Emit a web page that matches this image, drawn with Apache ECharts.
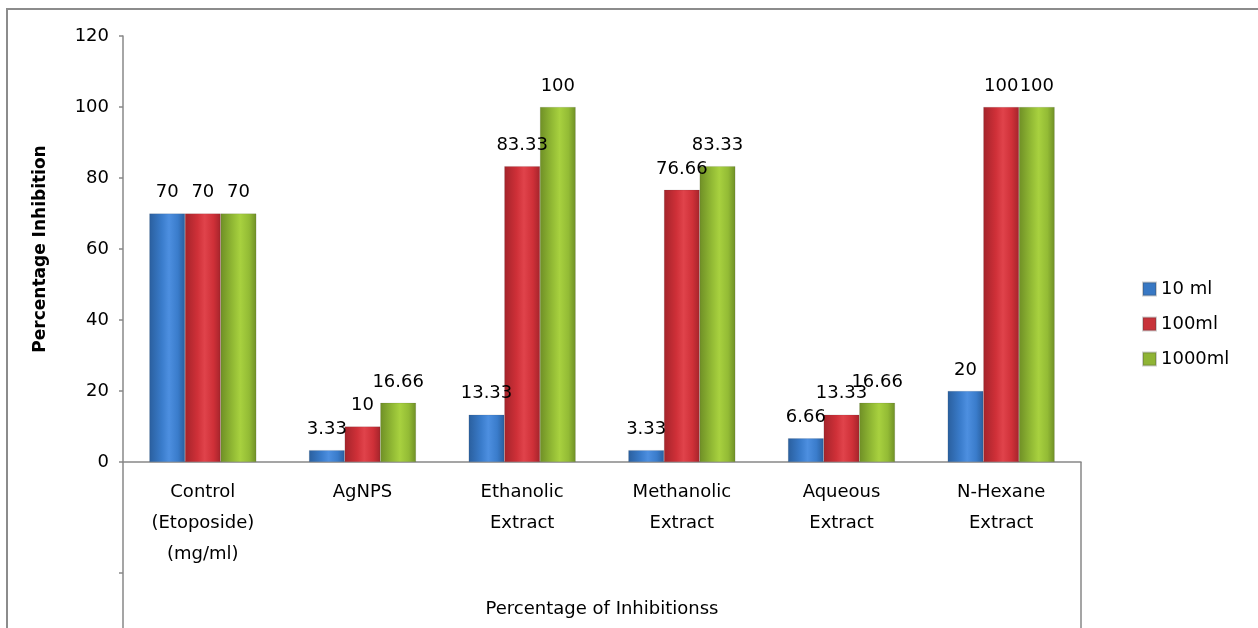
<!DOCTYPE html>
<html>
<head>
<meta charset="utf-8">
<script src="https://cdn.jsdelivr.net/npm/echarts@6/dist/echarts.min.js"></script>
<style>
  html, body { margin: 0; padding: 0; background: #fff; }
  #chart { width: 1258px; height: 628px; }
</style>
</head>
<body>
<div id="chart"></div>
<script>
// Categories (inner level) and the outer group label
const categories = [
  'Control\n(Etoposide)\n(mg/ml)',
  'AgNPS',
  'Ethanolic\nExtract',
  'Methanolic\nExtract',
  'Aqueous\nExtract',
  'N-Hexane\nExtract'
];
const groupLabel = ['Percentage of Inhibitionss'];

// Percentage inhibition per dose
const dose10 = [70, 3.33, 13.33, 3.33, 6.66, 20];
const dose100 = [70, 10, 83.33, 76.66, 13.33, 100];
const dose1000 = [70, 16.66, 100, 83.33, 16.66, 100];

const seriesNames = ['10 ml', '100ml', '1000ml'];
const yTicks = { min: 0, max: 120, interval: 20 };

const FONT = '"DejaVu Sans", "Liberation Sans", sans-serif';

function glossy(dark, mid, light) {
  return new echarts.graphic.LinearGradient(0, 0, 1, 0, [
    { offset: 0, color: dark },
    { offset: 0.35, color: mid },
    { offset: 0.55, color: light },
    { offset: 0.8, color: mid },
    { offset: 1, color: dark }
  ]);
}

const palette = [
  glossy('#2a5f9e', '#3a7ccb', '#4d8fe0'),
  glossy('#a4242b', '#cf3038', '#e0434b'),
  glossy('#6f8f26', '#93bb35', '#a8d13f')
];
const legendColors = ['#3878c4', '#c8333a', '#8fb435'];

function barSeries(name, data, idx) {
  return {
    name: name,
    type: 'bar',
    data: data,
    barGap: '0%',
    barCategoryGap: '33%',
    itemStyle: {
      color: palette[idx],
      borderColor: 'rgba(60,60,60,0.25)',
      borderWidth: 0.5
    },
    label: {
      show: true,
      position: 'top',
      distance: 12,
      color: '#000',
      fontFamily: FONT,
      fontSize: 18
    }
  };
}

const chart = echarts.init(document.getElementById('chart'), null, { renderer: 'canvas' });

chart.setOption({
  animation: false,
  backgroundColor: '#fff',
  color: legendColors,
  textStyle: { fontFamily: FONT },
  grid: { left: 123, right: 177, top: 36, bottom: 166, containLabel: false },
  legend: {
    orient: 'vertical',
    left: 1137,
    top: 275,
    itemWidth: 13,
    itemHeight: 13,
    itemGap: 17,
    icon: 'rect',
    textStyle: { fontFamily: FONT, fontSize: 18, color: '#000' },
    data: seriesNames.map((n, i) => ({ name: n, itemStyle: { color: legendColors[i] } }))
  },
  xAxis: [
    {
      type: 'category',
      data: categories,
      axisLine: { show: true, lineStyle: { color: '#888', width: 1.5 } },
      axisTick: { show: false },
      axisLabel: {
        interval: 0,
        margin: 15,
        color: '#000',
        fontFamily: FONT,
        fontSize: 18,
        lineHeight: 31
      }
    },
    {
      // outer grouping level below the categories
      type: 'category',
      data: groupLabel,
      position: 'bottom',
      offset: 166,
      axisLine: { show: false },
      axisTick: {
        show: true,
        inside: true,
        length: 166,
        lineStyle: { color: '#888', width: 1.5 }
      },
      axisLabel: {
        inside: true,
        margin: 10,
        color: '#000',
        fontFamily: FONT,
        fontSize: 18
      }
    }
  ],
  yAxis: {
    type: 'value',
    min: yTicks.min,
    max: yTicks.max,
    interval: yTicks.interval,
    name: 'Percentage Inhibition',
    nameLocation: 'middle',
    nameGap: 74,
    nameTextStyle: { fontFamily: FONT, fontSize: 17, fontWeight: 'bold', color: '#000' },
    axisLine: { show: true, lineStyle: { color: '#888', width: 1.5 } },
    axisTick: { show: true, length: 4, lineStyle: { color: '#888', width: 1.5 } },
    splitLine: { show: false },
    axisLabel: { margin: 14, color: '#000', fontFamily: FONT, fontSize: 18 }
  },
  graphic: [
    {
      // chart frame
      type: 'rect',
      shape: { x: 7, y: 9, width: 1400, height: 800 },
      style: { fill: 'none', stroke: '#8c8c8c', lineWidth: 2 },
      silent: true,
      z: -1
    },
    {
      // separator tick between category levels
      type: 'line',
      shape: { x1: 119, y1: 573, x2: 123, y2: 573 },
      style: { stroke: '#888', lineWidth: 1.5 },
      silent: true
    }
  ],
  series: [
    barSeries(seriesNames[0], dose10, 0),
    barSeries(seriesNames[1], dose100, 1),
    barSeries(seriesNames[2], dose1000, 2)
  ]
});
</script>
</body>
</html>
